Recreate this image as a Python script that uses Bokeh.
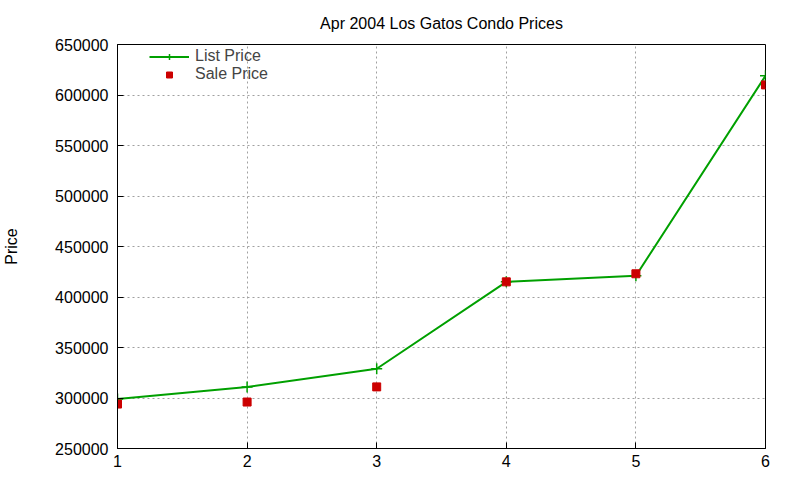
from bokeh.plotting import figure
from bokeh.models import (SingleIntervalTicker, BasicTickFormatter,
                          Range1d, Legend, LegendItem)
from bokeh.embed import file_html
from bokeh.resources import INLINE

# Data
unit = [1, 2, 3, 4, 5, 6]
list_price = [299000, 311000, 329000, 415000, 421000, 619000]
sale_price = [294000, 296000, 311000, 415000, 423000, 610000]
title_text = "Apr 2004 Los Gatos Condo Prices"
y_label = "Price"
series_names = ["List Price", "Sale Price"]

FONT = "Liberation Sans"
GREEN = "#00a000"
RED = "#cc0000"

p = figure(output_backend="svg", toolbar_location=None,
           frame_width=648, frame_height=404,
           x_range=Range1d(1, 6), y_range=Range1d(250000, 650000),
           min_border_left=110, min_border_right=26, min_border_top=43,
           min_border_bottom=24)

p.title.text = title_text
p.title.align = "center"
p.title.text_font = FONT
p.title.text_font_size = "16px"
p.title.text_font_style = "normal"
p.title.text_color = "black"
p.title.standoff = 25

p.outline_line_color = "black"
p.outline_line_width = 1
p.background_fill_color = "white"
p.border_fill_color = "white"

for ax in (p.xaxis[0], p.yaxis[0]):
    ax.major_tick_in = 6
    ax.major_tick_out = 0
    ax.minor_tick_line_color = None
    ax.axis_line_color = "black"
    ax.major_tick_line_color = "black"
    ax.major_label_text_font = FONT
    ax.major_label_text_font_size = "16px"
    ax.major_label_text_color = "black"

p.xaxis.ticker = SingleIntervalTicker(interval=1)
p.yaxis.ticker = SingleIntervalTicker(interval=50000)
p.yaxis.formatter = BasicTickFormatter(use_scientific=False)
p.xaxis.major_label_standoff = 2
p.yaxis.major_label_standoff = 5

p.yaxis.axis_label = y_label
p.yaxis.axis_label_text_font = FONT
p.yaxis.axis_label_text_font_size = "16px"
p.yaxis.axis_label_text_font_style = "normal"
p.yaxis.axis_label_text_color = "black"
p.yaxis.axis_label_standoff = 32

p.xgrid.grid_line_color = "#a0a0a0"
p.xgrid.grid_line_dash = "2 3"
p.ygrid.grid_line_color = "#a0a0a0"
p.ygrid.grid_line_dash = "2 3"

l1 = p.line(unit, list_price, line_color=GREEN, line_width=2)
m1 = p.scatter(unit, list_price, marker="cross", size=11, line_color=GREEN, line_width=1.5)
m2 = p.scatter(unit, sale_price, marker="square", size=8, fill_color=RED, line_color=RED)

legend = Legend(items=[LegendItem(label=series_names[0], renderers=[l1, m1]),
                       LegendItem(label=series_names[1], renderers=[m2])],
                location=(32, 365), orientation="vertical",
                border_line_color=None, background_fill_alpha=0,
                label_text_font=FONT, label_text_font_size="16px",
                label_height=15, glyph_height=15, glyph_width=40,
                spacing=-3, padding=0, margin=0, label_standoff=6)
p.add_layout(legend, "center")

open("out.html", "w").write(file_html(p, INLINE))
